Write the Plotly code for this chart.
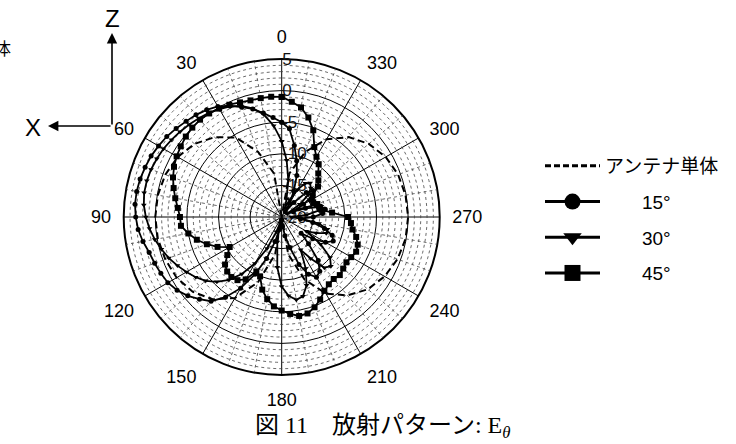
import plotly.graph_objects as go

# ---------------- data ----------------
theta = list(range(0, 360, 5)) + [360]

antenna_theta = [0, 10, 20, 30, 40, 50, 60, 70, 80, 90, 100, 110, 120, 130, 140, 150, 160, 170,
                 180, 190, 200, 210, 220, 230, 240, 250, 260, 270, 280, 290, 300, 310, 320, 330,
                 340, 350, 360]
antenna_r = [-20, -13, -9, -5.5, -3.5, -2, -1, -0.4, -0.1, 0, -0.1, -0.4, -0.8, -1.6, -3, -5.2,
             -9, -14, -20, -14, -9.5, -6, -3.8, -2.2, -1.2, -0.5, -0.1, 0, -0.1, -0.4, -1, -2,
             -3.5, -5.8, -9, -13, -20]

r15 = [-5.0, -4.2, -3.3, -2.3, -1.5, -0.6, 0.2, 0.7, 1.1, 1.4, 1.8, 2.2, 2.5, 2.8, 3.0, 3.2,
       3.3, 3.3, 3.1, 2.8, 2.3, 1.7, 1.4, 1.1, 0.8, 0.2, -0.6, -1.6, -2.6, -4.5, -7.0, -10,
       -13, -16, -18, -19.5, -19.5, -18.5, -17, -15, -12, -10, -9, -9.5, -11, -14, -16, -14,
       -12, -11, -11.5, -13, -15, -17, -15, -13.5, -13, -14, -16, -18, -16, -14, -13.5, -14.5,
       -17, -19, -17.5, -15.5, -13, -10.8, -8.5, -6, -5.0]

r30 = [-8, -5.5, -3.5, -2.2, -1.3, -0.7, -0.3, 0.1, 0.4, 0.7, 1.0, 1.3, 1.6, 1.8, 2.0, 2.1,
       2.1, 1.9, 1.5, 1.0, 0.4, -0.3, -1.0, -1.8, -2.6, -3.4, -4.3, -5.5, -7, -9, -11.5, -14.5,
       -17.5, -19, -16, -12, -9, -7.5, -6.7, -7, -8.5, -11, -14, -12, -9.5, -9, -10, -12.5,
       -15.5, -14, -12.5, -12.5, -14, -17, -18.5, -16, -14, -13.5, -14.5, -17, -19, -16.5,
       -14.5, -13.5, -13, -13.5, -15, -17, -18.5, -17, -14, -11, -8]

r45 = [-1.0, -0.9, -0.9, -0.9, -0.7, -0.4, -0.2, 0.0, 0.1, 0.0, -0.2, -0.5, -0.8, -1.2, -1.7,
       -2.3, -2.9, -3.5, -3.9, -4.0, -5.0, -6.1, -7.4, -8.8, -10.5, -9.5, -8.3, -7.8, -7.6,
       -7.8, -8.6, -10.5, -10, -8.1, -6.8, -5.8, -5.2, -4.6, -4.1, -4.2, -4.8, -5.6, -6.5, -7,
       -7.2, -7, -7.3, -7.5, -7.3, -7, -7.2, -7.8, -8.6, -9, -9.5, -12, -13.5, -13.8, -14,
       -14.5, -14.5, -14, -12.5, -11.8, -11, -9.8, -9, -7.8, -5.4, -3.7, -2.4, -1.7, -1.0]

angle_ticks = list(range(0, 360, 30))
radial_ticks = [-20, -15, -10, -5, 0, 5]
series_names = ["アンテナ単体", "15°", "30°", "45°"]

# ---------------- figure ----------------
W, H = 736, 444
cx, cy, R = 281.7, 217.0, 158.0

fig = go.Figure()

# minor dotted grid (rings every 1 dB, spokes every 10 deg)
ring_theta = list(range(0, 361, 2))
for rv in range(-19, 5):
    if rv % 5 == 0:
        continue
    fig.add_trace(go.Scatterpolar(r=[rv] * len(ring_theta), theta=ring_theta, mode="lines",
                                  line=dict(color="#444444", width=0.8, dash="dot"),
                                  showlegend=False, hoverinfo="skip"))
for t in range(0, 360, 10):
    if t % 30 == 0:
        continue
    fig.add_trace(go.Scatterpolar(r=[-20, 5], theta=[t, t], mode="lines",
                                  line=dict(color="#444444", width=0.8, dash="dot"),
                                  showlegend=False, hoverinfo="skip"))

black = "black"
fig.add_trace(go.Scatterpolar(r=antenna_r, theta=antenna_theta, mode="lines",
                              line=dict(color=black, width=2, dash="7px,4px"),
                              showlegend=False, hoverinfo="skip"))
fig.add_trace(go.Scatterpolar(r=r15, theta=theta, mode="lines+markers",
                              line=dict(color=black, width=1.8),
                              marker=dict(symbol="circle", size=5, color=black),
                              showlegend=False))
fig.add_trace(go.Scatterpolar(r=r30, theta=theta, mode="lines+markers",
                              line=dict(color=black, width=1.8),
                              marker=dict(symbol="triangle-down", size=5, color=black),
                              showlegend=False))
fig.add_trace(go.Scatterpolar(r=r45, theta=theta, mode="lines+markers",
                              line=dict(color=black, width=1.8),
                              marker=dict(symbol="square", size=6, color=black),
                              showlegend=False))

# legend entries
nb = "\u00a0" * 7
fig.add_trace(go.Scatterpolar(r=[None], theta=[None], mode="lines", name=series_names[0],
                              line=dict(color=black, width=3, dash="6px,3px"), legendgroup="a"))
fig.add_trace(go.Scatterpolar(r=[None], theta=[None], mode="lines+markers", name=nb + series_names[1],
                              line=dict(color=black, width=3),
                              marker=dict(symbol="circle", size=16, color=black), legendgroup="b"))
fig.add_trace(go.Scatterpolar(r=[None], theta=[None], mode="lines+markers", name=nb + series_names[2],
                              line=dict(color=black, width=3),
                              marker=dict(symbol="triangle-down", size=16, color=black), legendgroup="c"))
fig.add_trace(go.Scatterpolar(r=[None], theta=[None], mode="lines+markers", name=nb + series_names[3],
                              line=dict(color=black, width=3),
                              marker=dict(symbol="square", size=16, color=black), legendgroup="d"))

font_sans = "Liberation Sans, Arial, Noto Sans CJK JP, sans-serif"

fig.update_layout(
    width=W, height=H,
    margin=dict(l=0, r=0, t=0, b=0),
    paper_bgcolor="white",
    showlegend=True,
    legend=dict(x=540 / W, y=1 - 147 / H, xanchor="left", yanchor="top",
                font=dict(family=font_sans, size=19, color="black"),
                itemwidth=55, traceorder="grouped", tracegroupgap=8,
                itemsizing="trace", bgcolor="rgba(0,0,0,0)"),
    polar=dict(
        domain=dict(x=[(cx - R) / W, (cx + R) / W], y=[1 - (cy + R) / H, 1 - (cy - R) / H]),
        bgcolor="white",
        angularaxis=dict(rotation=90, direction="counterclockwise",
                         tickmode="array", tickvals=angle_ticks,
                         ticktext=[str(a) for a in angle_ticks],
                         showline=True, linecolor=black, linewidth=2,
                         showgrid=True, gridcolor=black, gridwidth=1.3,
                         ticks="outside", ticklen=8, tickcolor="rgba(0,0,0,0)",
                         tickfont=dict(family=font_sans, size=18, color="black"),
                         layer="below traces"),
        radialaxis=dict(range=[-20, 5], tickmode="array", tickvals=radial_ticks,
                        ticktext=[str(v) for v in radial_ticks],
                        showgrid=True, gridcolor=black, gridwidth=1.3,
                        showline=False, ticks="", angle=90, side="clockwise",
                        tickangle=90,
                        tickfont=dict(family=font_sans, size=17, color="#111111"),
                        layer="below traces"),
    ),
)

# axes symbol (Z / X) and text
fig.add_annotation(x=112 / W, y=1 - 33 / H, xref="paper", yref="paper", text="",
                   showarrow=True, ax=0, ay=93, axref="pixel", ayref="pixel",
                   arrowhead=2, arrowsize=1.3, arrowwidth=1.6, arrowcolor=black)
fig.add_annotation(x=48 / W, y=1 - 126 / H, xref="paper", yref="paper", text="",
                   showarrow=True, ax=64, ay=0, axref="pixel", ayref="pixel",
                   arrowhead=2, arrowsize=1.3, arrowwidth=1.6, arrowcolor=black)
fig.add_annotation(x=112 / W, y=1 - 18 / H, xref="paper", yref="paper", text="Z",
                   xanchor="center", yanchor="middle",
                   showarrow=False, font=dict(family=font_sans, size=24, color=black))
fig.add_annotation(x=33 / W, y=1 - 127 / H, xref="paper", yref="paper", text="X",
                   xanchor="center", yanchor="middle",
                   showarrow=False, font=dict(family=font_sans, size=24, color=black))
fig.add_annotation(x=13 / W, y=1 - 47 / H, xref="paper", yref="paper", text="単体",
                   xanchor="right", yanchor="middle", showarrow=False,
                   font=dict(family="Noto Sans CJK JP", size=17, color=black))
fig.add_annotation(x=253 / W, y=1 - 427 / H, xref="paper", yref="paper",
                   text="図 11\u3000放射パターン: E<sub><i>θ</i></sub>",
                   xanchor="left", yanchor="middle", showarrow=False,
                   font=dict(family="Liberation Serif, Noto Sans CJK JP, serif", size=24, color=black))

fig.write_html("out.html")
